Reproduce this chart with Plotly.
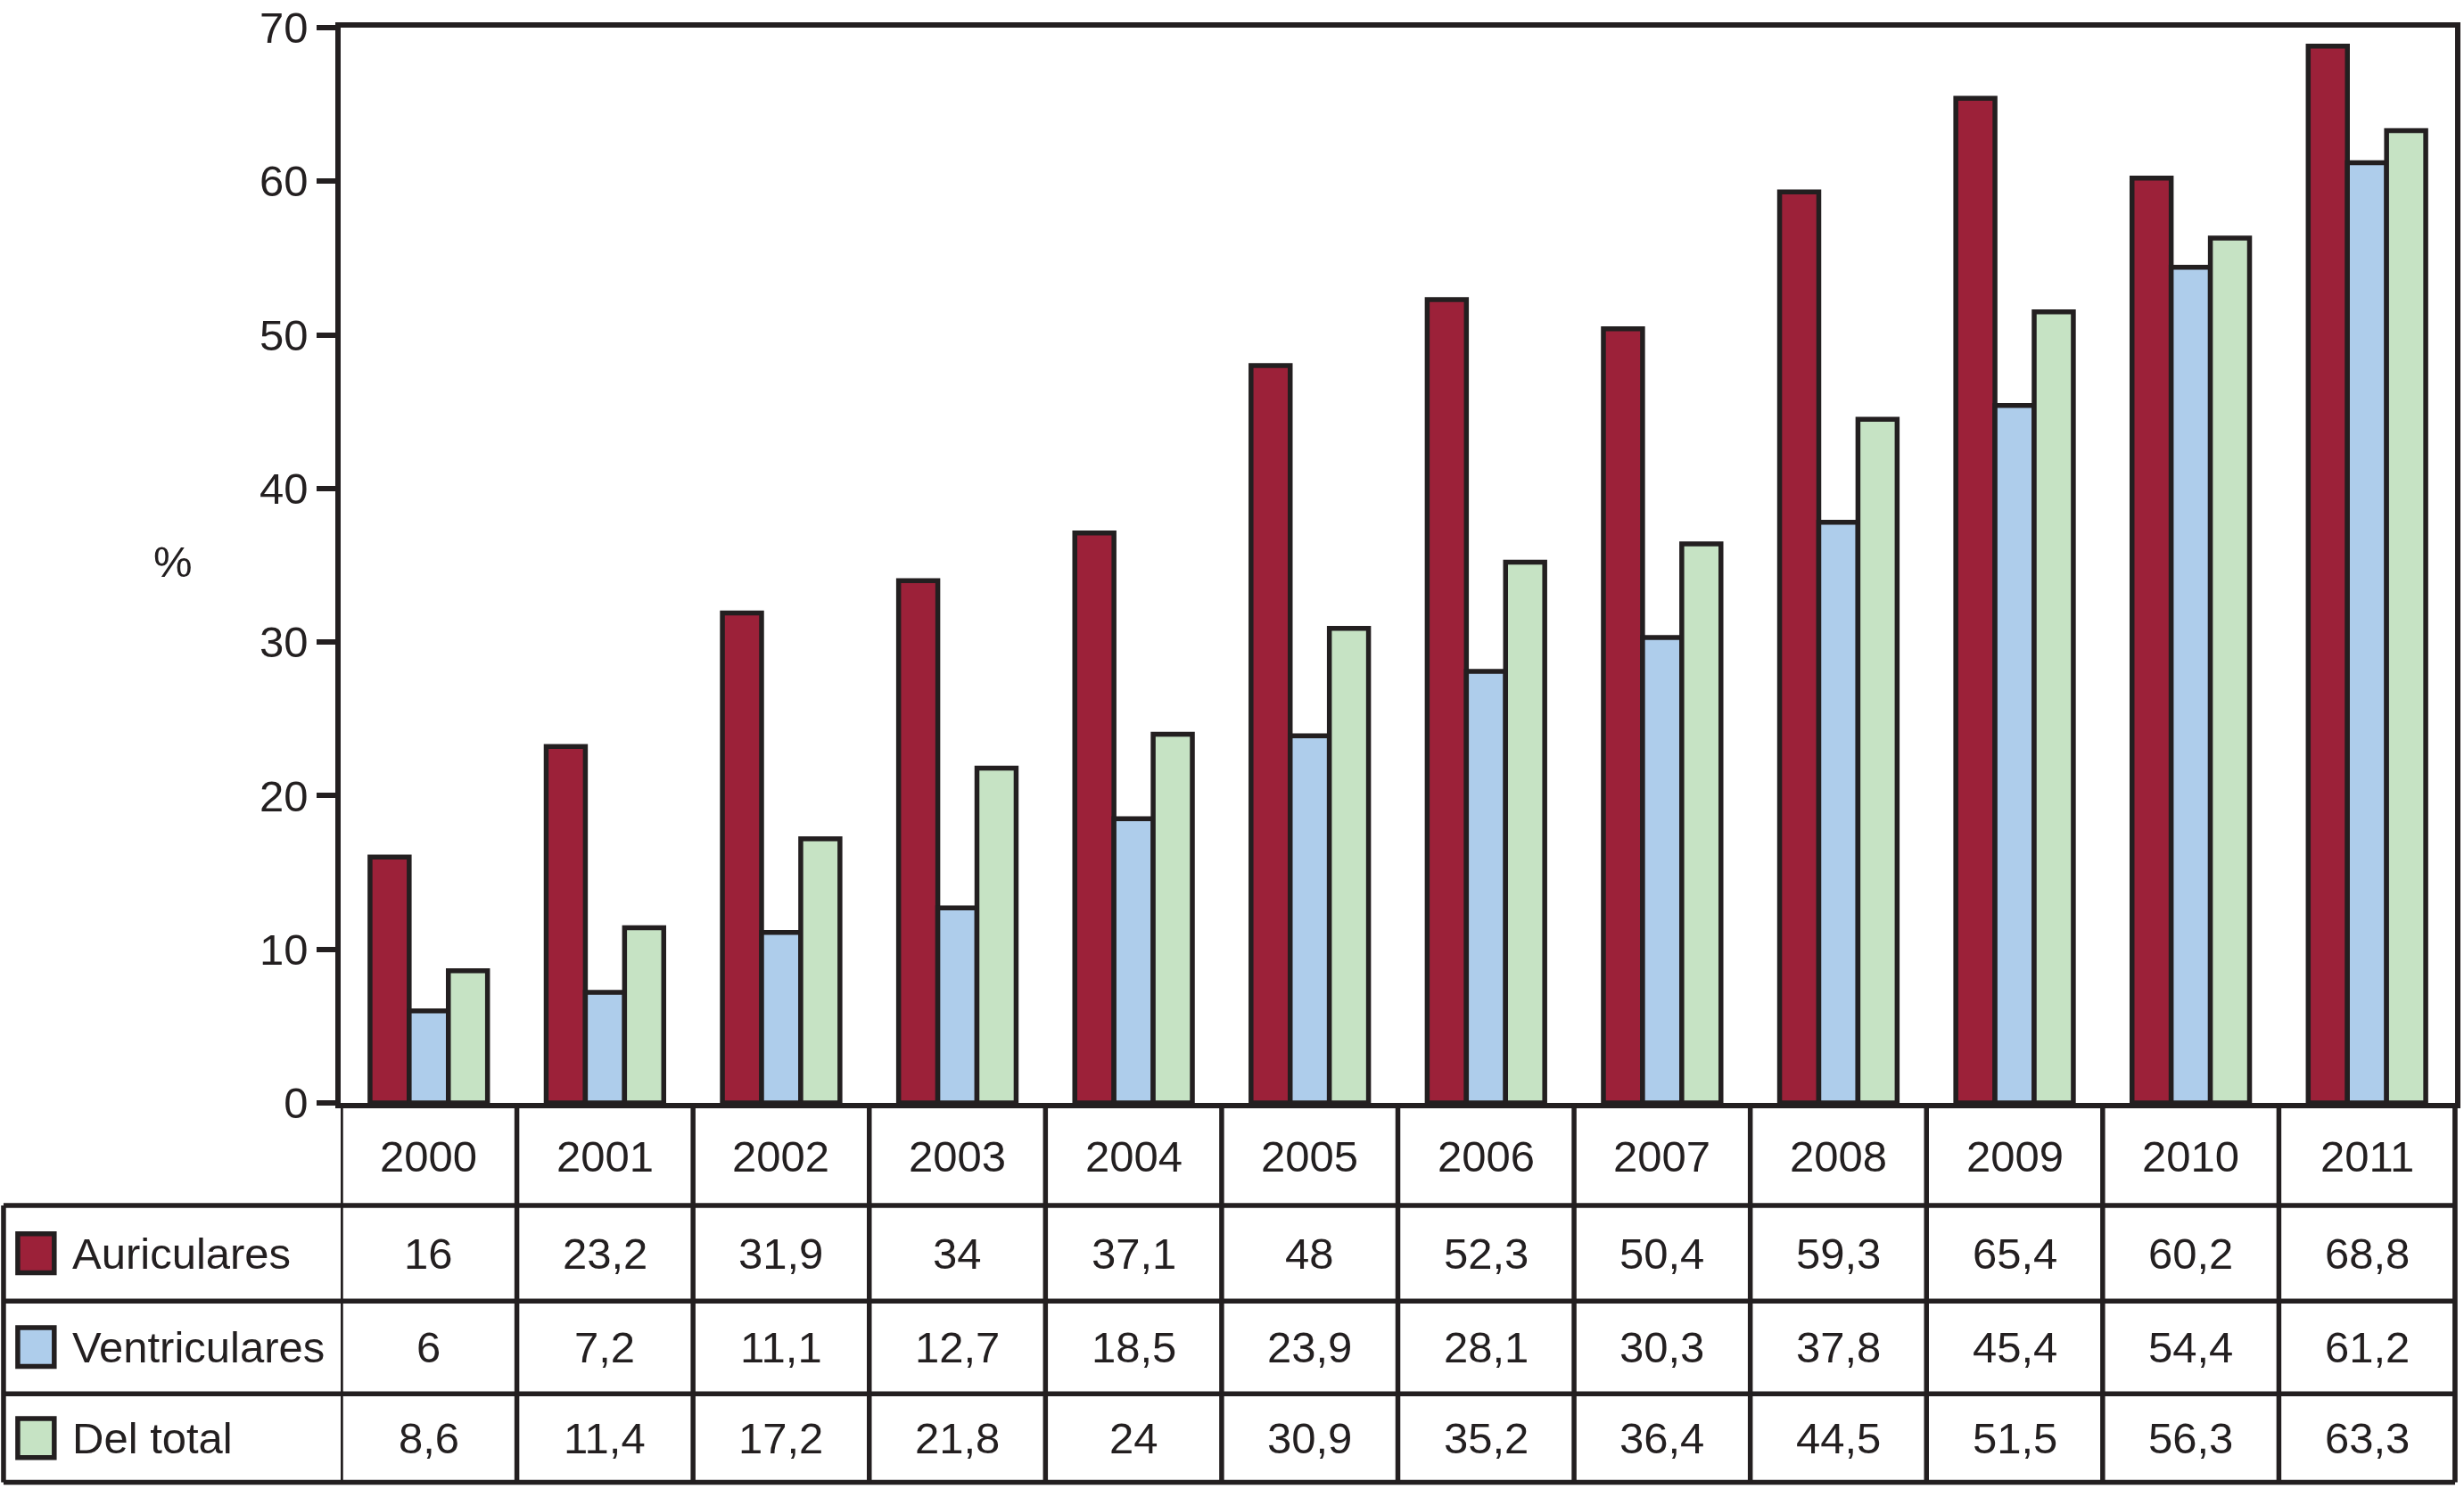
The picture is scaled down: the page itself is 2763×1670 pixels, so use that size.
import plotly.graph_objects as go

years = ["2000", "2001", "2002", "2003", "2004", "2005", "2006", "2007", "2008", "2009", "2010", "2011"]
series_names = ["Auriculares", "Ventriculares", "Del total"]
auriculares = [16, 23.2, 31.9, 34, 37.1, 48, 52.3, 50.4, 59.3, 65.4, 60.2, 68.8]
ventriculares = [6, 7.2, 11.1, 12.7, 18.5, 23.9, 28.1, 30.3, 37.8, 45.4, 54.4, 61.2]
del_total = [8.6, 11.4, 17.2, 21.8, 24, 30.9, 35.2, 36.4, 44.5, 51.5, 56.3, 63.3]
y_ticks = [0, 10, 20, 30, 40, 50, 60, 70]
y_title = "%"

series_values = [auriculares, ventriculares, del_total]
colors = ["#9C2139", "#AECDEB", "#C6E3C4"]
INK = "#231F20"
FONT = "Liberation Sans, Arial, sans-serif"
FS = 49
LW = 5.5

W, H = 2763, 1670
L, R, T, B = 382, 4, 21, 433
plot_h = H - T - B
plot_w = W - L - R


def py(Y):
    return (H - B - Y) / plot_h


def px(X):
    return (X - L) / plot_w


def fmt(v):
    if float(v) == int(v):
        return str(int(v))
    return ("%.1f" % v).replace(".", ",")


fig = go.Figure()
for name, vals, col in zip(series_names, series_values, colors):
    fig.add_trace(go.Bar(
        x=years, y=vals, name=name,
        marker=dict(color=col, line=dict(color=INK, width=LW)),
        showlegend=False, hoverinfo="x+y+name",
    ))

# table geometry (pixel rows)
row_lines = [1353, 1461, 1566, 1666]
header_center = 1297
row_centers = [1407, 1513, 1616]

shapes = []
for Y in row_lines:
    shapes.append(dict(type="line", xref="paper", yref="paper",
                       x0=px(3), x1=1, y0=py(Y), y1=py(Y),
                       line=dict(color=INK, width=LW)))
for k in range(len(years) + 1):
    shapes.append(dict(type="line", xref="x", yref="paper",
                       x0=k - 0.5, x1=k - 0.5, y0=0, y1=py(row_lines[-1]),
                       line=dict(color=INK, width=LW)))
shapes.append(dict(type="line", xref="paper", yref="paper",
                   x0=px(3), x1=px(3), y0=py(row_lines[0]), y1=py(row_lines[-1]),
                   line=dict(color=INK, width=LW)))
shapes.append(dict(type="line", xref="paper", yref="paper",
                   x0=1, x1=1, y0=0, y1=py(row_lines[-1]),
                   line=dict(color=INK, width=LW)))

annotations = []
for yr_i, yr in enumerate(years):
    annotations.append(dict(x=yr_i, xref="x", y=py(header_center), yref="paper",
                            text=yr, showarrow=False, xanchor="center", yanchor="middle",
                            font=dict(family=FONT, size=FS, color=INK)))

for r, (name, vals, col) in enumerate(zip(series_names, series_values, colors)):
    yc = row_centers[r]
    shapes.append(dict(type="rect", xref="paper", yref="paper",
                       x0=px(19), x1=px(60), y0=py(yc + 22), y1=py(yc - 22),
                       fillcolor=col, line=dict(color=INK, width=LW)))
    annotations.append(dict(x=px(78), xref="paper", y=py(yc), yref="paper",
                            text=name, showarrow=False, xanchor="left", yanchor="middle",
                            font=dict(family=FONT, size=FS, color=INK)))
    for i, v in enumerate(vals):
        annotations.append(dict(x=i, xref="x", y=py(yc), yref="paper",
                                text=fmt(v), showarrow=False, xanchor="center", yanchor="middle",
                                font=dict(family=FONT, size=FS, color=INK)))

annotations.append(dict(x=px(194), xref="paper", y=py(625), yref="paper",
                        text=y_title, showarrow=False, xanchor="center", yanchor="middle",
                        font=dict(family=FONT, size=FS, color=INK)))

fig.update_layout(
    width=W, height=H,
    margin=dict(l=L, r=R, t=T, b=B, pad=0),
    paper_bgcolor="white", plot_bgcolor="white",
    barmode="group", bargap=0.333, bargroupgap=0,
    shapes=shapes, annotations=annotations,
    font=dict(family=FONT, size=FS, color=INK),
)
fig.update_xaxes(type="category", range=[-0.5, len(years) - 0.5],
                 showticklabels=False, ticks="", showgrid=False, zeroline=False,
                 showline=True, linecolor=INK, linewidth=LW, mirror=True)
fig.update_yaxes(range=[0, 70], tickvals=y_ticks, ticks="outside", ticklen=21,
                 tickwidth=LW, tickcolor=INK, showgrid=False, zeroline=False,
                 showline=True, linecolor=INK, linewidth=LW, mirror=True,
                 tickfont=dict(family=FONT, size=FS, color=INK),
                 ticklabelstandoff=0, ticklabeloverflow="allow")

fig.write_html("out.html",
               config={"displayModeBar": False},
               post_script="document.body.style.margin='0';document.body.style.overflow='hidden';")
